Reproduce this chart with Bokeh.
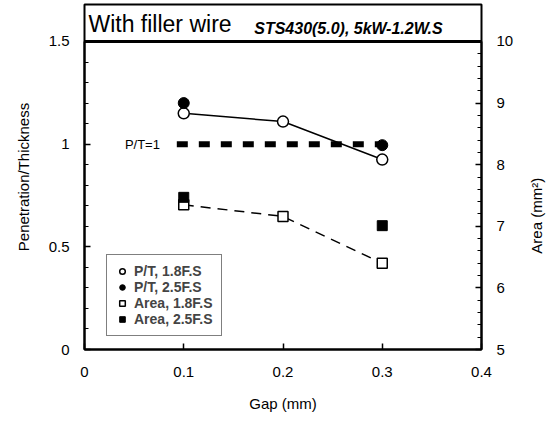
import math
from bokeh.plotting import figure
from bokeh.models import (Range1d, LinearAxis, FixedTicker, Span, Label, Legend, LegendItem)
from bokeh.embed import file_html
from bokeh.resources import INLINE

# ---- data ----
gap = [0.1, 0.2, 0.3]
pt_18 = [1.15, 1.11, 0.925]
gap_25 = [0.1, 0.3]
pt_25 = [1.20, 0.995]
area_18 = [7.35, 7.16, 6.40]
area_25 = [7.47, 7.01]
ref_x = [0.093, 0.309]
ref_y = [1.0, 1.0]

x_ticks = [0, 0.1, 0.2, 0.3, 0.4]
left_ticks = [0, 0.5, 1, 1.5]
left_minor = [0.1, 0.2, 0.3, 0.4, 0.6, 0.7, 0.8, 0.9, 1.1, 1.2, 1.3, 1.4]
right_ticks = [5, 6, 7, 8, 9, 10]
right_minor = [5 + 0.2 * i for i in range(26) if i % 5 != 0]

FONT = "Liberation Sans"
Y_TOP = 1.680

p = figure(width=556, height=420, output_backend="svg", toolbar_location=None,
           x_range=Range1d(0, 0.4), y_range=Range1d(0, Y_TOP),
           min_border_left=84, min_border_right=72, min_border_top=4, min_border_bottom=71,
           y_axis_location=None, x_axis_location=None)
p.grid.visible = False
p.outline_line_color = "black"
p.outline_line_width = 2
p.background_fill_color = "white"
p.border_fill_color = "white"
p.extra_y_ranges = {"area": Range1d(5, 5 + Y_TOP * 10 / 3)}

def style(ax):
    ax.axis_line_color = "black"
    ax.axis_line_width = 2
    ax.major_tick_in = 6
    ax.major_tick_out = 0
    ax.minor_tick_in = 4
    ax.minor_tick_out = 0
    ax.major_tick_line_width = 1.5
    ax.minor_tick_line_width = 1
    ax.major_label_text_font = FONT
    ax.major_label_text_font_size = "15px"
    ax.major_label_text_color = "black"
    ax.axis_label_text_font = FONT
    ax.axis_label_text_font_size = "15px"
    ax.axis_label_text_font_style = "normal"
    ax.axis_label_text_color = "black"

xa = LinearAxis(ticker=FixedTicker(ticks=x_ticks, minor_ticks=[]), axis_label="Gap (mm)")
style(xa)
xa.major_label_standoff = 17
xa.axis_label_standoff = 15
p.add_layout(xa, "below")

ya = LinearAxis(ticker=FixedTicker(ticks=left_ticks, minor_ticks=left_minor),
                axis_label="Penetration/Thickness", bounds=(0, 1.5))
style(ya)
ya.major_label_standoff = 15
ya.axis_label_standoff = 14
ya.major_label_overrides = {0: "0", 1: "1"}
p.add_layout(ya, "left")

# right axis: label reads bottom-to-top, anchored at the bottom of the axis
ra = LinearAxis(y_range_name="area", ticker=FixedTicker(ticks=right_ticks, minor_ticks=right_minor),
                bounds=(5, 10), axis_label="\u00a0" * 23 + "Area (mm²)")
style(ra)
ra.major_label_standoff = 15
ra.axis_label_standoff = 20
ra.axis_label_orientation = math.pi / 2
ra.axis_label_align = "start"
p.add_layout(ra, "right")

# thick line under the title box
p.add_layout(Span(location=1.5, dimension="width", line_color="black", line_width=3))

# reference P/T = 1 line
p.line(ref_x, ref_y, line_color="black", line_width=6, line_dash="11 11")
p.add_layout(Label(x=0.076, y=1.0, text="P/T=1", text_align="right", text_baseline="middle",
                   text_font=FONT, text_font_size="13px", text_color="black"))

# series
p.line(gap, pt_18, line_color="black", line_width=1.5)
r1 = p.scatter(gap, pt_18, marker="circle", size=11, fill_color="white", line_color="black", line_width=1.5)
r2 = p.scatter(gap_25, pt_25, marker="circle", size=11, fill_color="black", line_color="black")
p.line(gap, area_18, line_color="black", line_width=1.5, line_dash="10 7", y_range_name="area")
r3 = p.scatter(gap, area_18, marker="square", size=10, fill_color="white", line_color="black",
               line_width=1.5, y_range_name="area")
r4 = p.scatter(gap_25, area_25, marker="square", size=10, fill_color="black", line_color="black",
               y_range_name="area")

legend = Legend(items=[LegendItem(label="P/T, 1.8F.S", renderers=[r1]),
                       LegendItem(label="P/T, 2.5F.S", renderers=[r2]),
                       LegendItem(label="Area, 1.8F.S", renderers=[r3]),
                       LegendItem(label="Area, 2.5F.S", renderers=[r4])],
                location=(22, 13), margin=0, padding=8, spacing=0,
                label_height=16, glyph_height=16, glyph_width=14, label_standoff=5,
                label_text_font=FONT, label_text_font_size="14px", label_text_font_style="bold",
                border_line_color="black", border_line_width=1.5, background_fill_alpha=1)
p.add_layout(legend)

# title box texts
p.add_layout(Label(x=0.004, y=1.52, text="With filler wire", text_align="left",
                   text_baseline="bottom", text_font=FONT, text_font_size="23px", text_color="black"))
p.add_layout(Label(x=0.171, y=1.52, text="STS430(5.0), 5kW-1.2W.S", text_align="left",
                   text_baseline="bottom", text_font=FONT, text_font_size="16px",
                   text_font_style="bold italic", text_color="black"))

open("out.html", "w").write(file_html(p, INLINE))
